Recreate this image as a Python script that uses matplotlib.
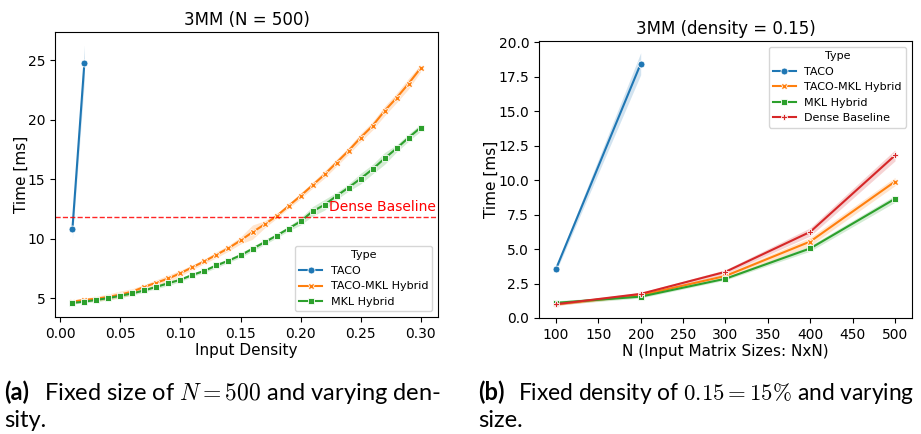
import numpy as np
import matplotlib
matplotlib.use("Agg")
import matplotlib.pyplot as plt

plt.rcParams['mathtext.fontset'] = 'cm'

# left panel: fixed N = 500, varying density
density = [0.01, 0.02, 0.03, 0.04, 0.05, 0.06, 0.07, 0.08, 0.09, 0.10,
           0.11, 0.12, 0.13, 0.14, 0.15, 0.16, 0.17, 0.18, 0.19, 0.20,
           0.21, 0.22, 0.23, 0.24, 0.25, 0.26, 0.27, 0.28, 0.29, 0.30]
taco_density = [0.01, 0.02]
taco_time = [10.8, 24.8]
taco_err = [0.8, 1.5]
hybrid_time = [4.7, 4.85, 4.95, 5.1, 5.3, 5.55, 5.95, 6.3, 6.65, 7.1,
               7.6, 8.1, 8.65, 9.2, 9.85, 10.55, 11.2, 11.9, 12.75, 13.6,
               14.5, 15.4, 16.4, 17.4, 18.5, 19.5, 20.75, 21.85, 23.05, 24.35]
hybrid_err = [0.15, 0.15, 0.2, 0.25, 0.3, 0.25, 0.2, 0.25, 0.3, 0.25,
              0.2, 0.2, 0.25, 0.25, 0.3, 0.6, 0.3, 0.2, 0.2, 0.25,
              0.25, 0.3, 0.3, 0.3, 0.35, 0.35, 0.4, 0.4, 0.45, 0.3]
mkl_time = [4.6, 4.7, 4.85, 5.0, 5.2, 5.4, 5.65, 5.95, 6.25, 6.55,
            6.95, 7.3, 7.75, 8.15, 8.6, 9.15, 9.7, 10.25, 10.85, 11.45,
            12.3, 12.85, 13.6, 14.3, 15.05, 15.85, 16.75, 17.6, 18.5, 19.35]
mkl_err = [0.1, 0.1, 0.15, 0.15, 0.15, 0.15, 0.15, 0.15, 0.2, 0.15,
           0.15, 0.15, 0.2, 0.15, 0.2, 0.2, 0.2, 0.2, 0.2, 0.3,
           0.4, 0.45, 0.3, 0.3, 0.45, 0.4, 0.5, 0.3, 0.3, 0.3]
dense_baseline = 11.8

# right panel: fixed density = 0.15, varying size
sizes = [100, 200, 300, 400, 500]
taco_sizes = [100, 200]
taco_n = [3.55, 18.45]
taco_n_err = [0.2, 0.8]
hybrid_n = [1.0, 1.65, 3.05, 5.55, 9.9]
hybrid_n_err = [0.1, 0.1, 0.15, 0.3, 0.3]
mkl_n = [1.1, 1.55, 2.85, 5.05, 8.65]
mkl_n_err = [0.15, 0.1, 0.1, 0.2, 0.25]
dense_n = [1.0, 1.75, 3.35, 6.25, 11.8]
dense_n_err = [0.1, 0.1, 0.15, 0.3, 0.4]

colors = {'TACO': '#1f77b4', 'TACO-MKL Hybrid': '#ff7f0e',
          'MKL Hybrid': '#2ca02c', 'Dense Baseline': '#d62728'}
markers = {'TACO': 'o', 'TACO-MKL Hybrid': 'X',
           'MKL Hybrid': 's', 'Dense Baseline': 'P'}


def draw(ax, x, y, err, name, ms=5):
    x = np.array(x)
    y = np.array(y)
    err = np.array(err)
    ax.fill_between(x, y - err, y + err, color=colors[name], alpha=0.2, lw=0)
    ax.plot(x, y, color=colors[name], marker=markers[name], ms=ms,
            mec='white', mew=0.6, lw=1.5, label=name)


fig = plt.figure(figsize=(9.21, 4.34), dpi=100)

ax1 = fig.add_axes([0.0597, 0.2696, 0.4159, 0.6567])
draw(ax1, taco_density, taco_time, taco_err, 'TACO')
draw(ax1, density, hybrid_time, hybrid_err, 'TACO-MKL Hybrid', ms=4.5)
draw(ax1, density, mkl_time, mkl_err, 'MKL Hybrid', ms=4)
ax1.axhline(dense_baseline, color='red', ls='--', lw=1, alpha=0.85)
ax1.text(0.3125, dense_baseline + 0.25, 'Dense Baseline', color='red',
         fontsize=10, ha='right', va='bottom')
ax1.set_xticks([0.0, 0.05, 0.10, 0.15, 0.20, 0.25, 0.30])
ax1.set_xticklabels(['0.00', '0.05', '0.10', '0.15', '0.20', '0.25', '0.30'])
ax1.set_yticks([5, 10, 15, 20, 25])
ax1.tick_params(labelsize=10)
ax1.set_xlabel('Input Density', fontsize=11, labelpad=2)
ax1.set_ylabel('Time [ms]', fontsize=11, labelpad=-0.5)
ax1.set_title('3MM (N = 500)', fontsize=12, pad=5)
ax1.legend(title='Type', loc='lower right', fontsize=8, title_fontsize=8)

ax2 = fig.add_axes([0.5852, 0.2673, 0.4050, 0.6382])
draw(ax2, taco_sizes, taco_n, taco_n_err, 'TACO')
draw(ax2, sizes, hybrid_n, hybrid_n_err, 'TACO-MKL Hybrid')
draw(ax2, sizes, mkl_n, mkl_n_err, 'MKL Hybrid', ms=4.5)
draw(ax2, sizes, dense_n, dense_n_err, 'Dense Baseline')
ax2.set_ylim(0, 20.1)
ax2.set_yticks([0, 2.5, 5, 7.5, 10, 12.5, 15, 17.5, 20])
ax2.set_yticklabels(['0.0', '2.5', '5.0', '7.5', '10.0', '12.5', '15.0', '17.5', '20.0'])
ax2.set_xticks([100, 150, 200, 250, 300, 350, 400, 450, 500])
ax2.tick_params(labelsize=10)
ax2.set_xlabel('N (Input Matrix Sizes: NxN)', fontsize=11, labelpad=2)
ax2.set_ylabel('Time [ms]', fontsize=11, labelpad=-0.5)
ax2.set_title('3MM (density = 0.15)', fontsize=12, pad=5)
ax2.legend(title='Type', loc='upper right', fontsize=8, title_fontsize=8)

# captions, the first line of each is shrunk to end where the reference ends
renderer = fig.canvas.get_renderer()
W = 921.0


def caption(x_lab, x_txt, x_end, label, line1, line2, size=17):
    fig.text(x_lab / W, 0.078, label, fontweight='bold', fontsize=size, family='Lato')
    t = fig.text(x_txt / W, 0.078, line1, fontsize=size, family='Lato')
    width = t.get_window_extent(renderer).width
    if width > x_end - x_txt:
        t.set_fontsize(size * (x_end - x_txt) / width)
    fig.text(x_lab / W, 0.016, line2, fontsize=size, family='Lato')


caption(4, 44, 448, '(a)', r'Fixed size of $N = 500$ and varying den-', 'sity.')
caption(478, 518, 915, '(b)', r'Fixed density of $0.15 = 15\%$ and varying', 'size.')

fig.savefig('out.png', dpi=100)
